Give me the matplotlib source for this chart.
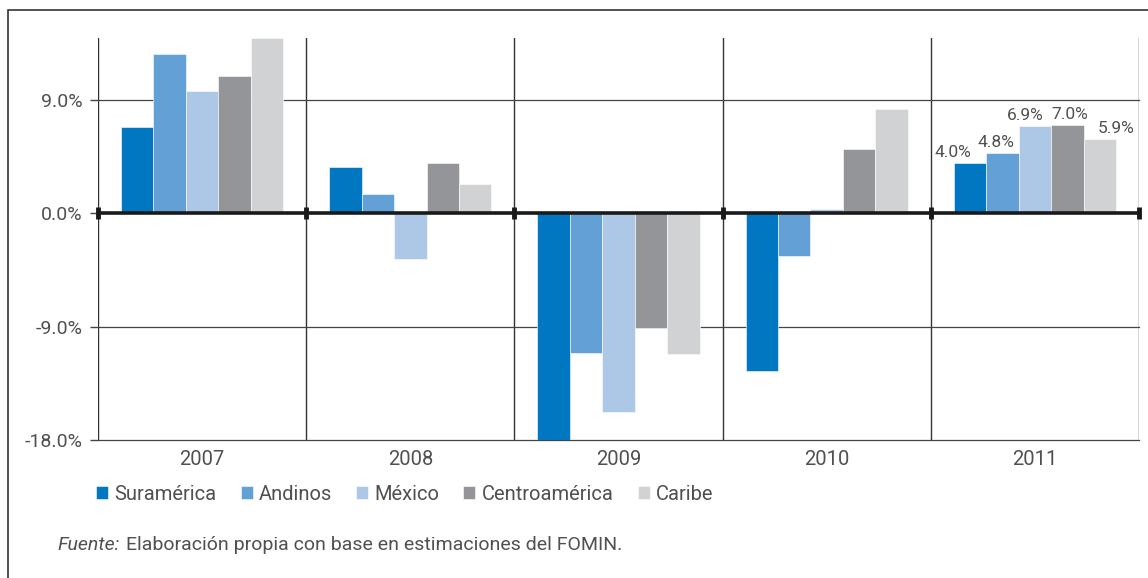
import matplotlib
matplotlib.use("Agg")
import matplotlib.pyplot as plt
import numpy as np
from matplotlib.patches import Rectangle

years = ["2007", "2008", "2009", "2010", "2011"]
series = ["Suramérica", "Andinos", "México", "Centroamérica", "Caribe"]
suramerica = [6.8, 3.7, -18.5, -12.5, 4.0]
andinos = [12.6, 1.5, -11.1, -3.4, 4.8]
mexico = [9.7, -3.6, -15.8, 0.3, 6.9]
centroamerica = [10.9, 4.0, -9.1, 5.1, 7.0]
caribe = [13.9, 2.3, -11.2, 8.3, 5.9]
labels_2011 = ["4.0%", "4.8%", "6.9%", "7.0%", "5.9%"]
yticks = [-18, -9, 0, 9]
ytick_labels = ["-18.0%", "-9.0%", "0.0%", "9.0%"]
colors = ["#0077C0", "#62A0D6", "#ADC8E6", "#949599", "#D1D2D4"]
label_dx_px = [-17, -6, -10, 2, 16]

plt.rcParams['font.family'] = ['Roboto', 'DejaVu Sans']
W, H = 1148, 578
fig = plt.figure(figsize=(W / 100, H / 100), dpi=100)
txtc = "#505050"

# outer frame
fig.patches.append(Rectangle((8 / W, -0.05), 1.2, 1 - 10 / H + 0.05, transform=fig.transFigure,
                             fill=False, edgecolor="#333333", linewidth=1.2))

ax = fig.add_axes([98 / W, (H - 440) / H, (1139 - 98) / W, (440 - 38) / H])
vals = [suramerica, andinos, mexico, centroamerica, caribe]
x = np.arange(len(years))
w = 0.156
for i, (v, c, name) in enumerate(zip(vals, colors, series)):
    ax.bar(x + (i - 2) * w, v, width=w, color=c, edgecolor="white", linewidth=0.4,
           label=name, zorder=2)
    ax.annotate(labels_2011[i], (x[-1] + (i - 2) * w, v[-1]),
                xytext=(label_dx_px[i] * 0.72, 2), textcoords="offset points",
                ha="center", va="bottom", fontsize=12.5, color=txtc, zorder=4)

ax.set_xlim(-0.5, len(years) - 0.5)
ax.set_ylim(-18, 13.9)
for s in ax.spines.values():
    s.set_visible(False)
for xv in np.arange(-0.5, len(years), 1.0):
    ax.axvline(xv, color="#333333", linewidth=1.0, zorder=1)
for yv in [-18, -9, 9]:
    ax.axhline(yv, color="#444444", linewidth=0.9, zorder=1, clip_on=False)
ax.axhline(0, color="#1a1a1a", linewidth=2.6, zorder=3)
for xv in np.arange(-0.5, len(years), 1.0):
    ax.plot([xv], [0], marker="|", markersize=9, markeredgewidth=3.5, color="#1a1a1a", zorder=3,
            clip_on=False)

ax.set_yticks(yticks)
ax.set_yticklabels(ytick_labels)
ax.tick_params(axis="y", length=6, width=1, color="#444444", labelsize=14, labelcolor=txtc, pad=5)
ax.set_xticks(x)
ax.set_xticklabels(years)
ax.tick_params(axis="x", length=0, labelsize=14.5, labelcolor=txtc, pad=7)

leg = fig.legend(loc="center left", bbox_to_anchor=(78 / W, (H - 494) / H), ncol=5, frameon=False,
                 fontsize=14.5, handlelength=0.6, handleheight=0.6, handletextpad=0.3,
                 columnspacing=1.2, labelcolor=txtc)

fig.text(57 / W, (H - 545) / H, "Fuente:", fontsize=14, style="italic", color=txtc, va="center")
fig.text(126 / W, (H - 545) / H, "Elaboración propia con base en estimaciones del FOMIN.",
         fontsize=14, color=txtc, va="center")

fig.savefig("out.png", dpi=100)
